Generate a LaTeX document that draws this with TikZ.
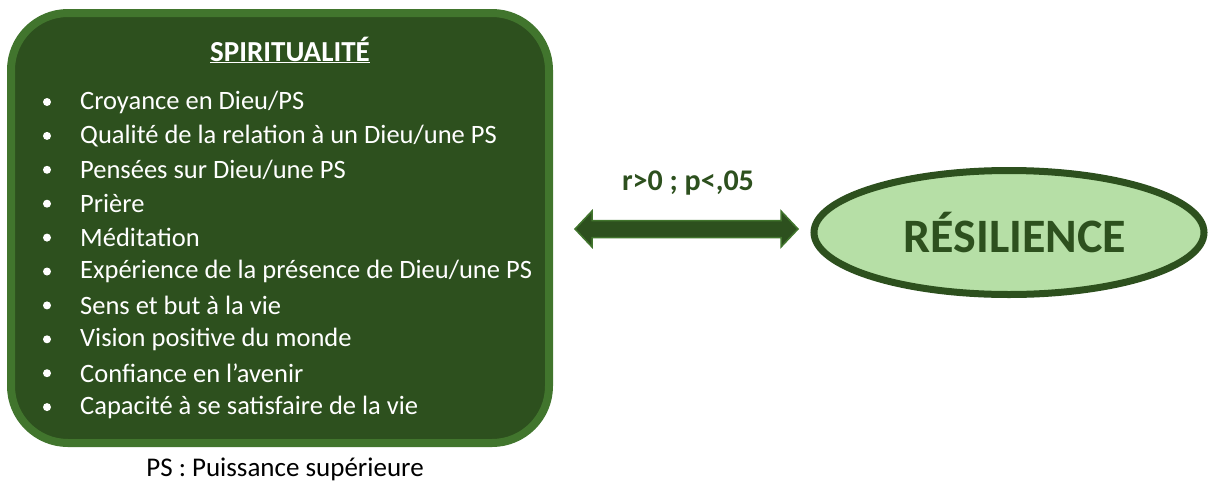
\documentclass[tikz,border=0pt]{standalone}
\usepackage{fontspec}
\setmainfont{Carlito}
\usetikzlibrary{calc}
\definecolor{darkg}{RGB}{45,80,30}
\definecolor{midg}{RGB}{65,117,45}
\definecolor{lightg}{RGB}{182,223,166}
\tikzset{
  itemtxt/.style={anchor=west, text=white, font=\fontsize{26.5}{30}\selectfont, inner sep=0pt},
  bul/.style={circle, fill=white, inner sep=0pt, minimum size=8pt},
}
\begin{document}
\begin{tikzpicture}[x=1pt,y=-1pt]
\useasboundingbox (0,0) rectangle (1208,488);
% main box
\draw[draw=midg, fill=darkg, line width=8pt, rounded corners=57pt] (11,13) rectangle (549,443);
\node[text=white, font=\bfseries\fontsize{29}{32}\selectfont, inner sep=0pt] (title) at (290,50) {\underline{SPIRITUALITÉ}};
\foreach \t [count=\i from 0] in {Croyance en Dieu/PS,Qualité de la relation à un Dieu/une PS,Pensées sur Dieu/une PS,Prière,Méditation,Expérience de la présence de Dieu/une PS,Sens et but à la vie,Vision positive du monde,Confiance en l’avenir,Capacité à se satisfaire de la vie}{
  \node[bul] (b\i) at (47,{102+33.9*\i}) {};
  \node[itemtxt] (t\i) at (80,{102+33.9*\i}) {\t};
}
% arrow
\coordinate (aL) at (575,229);
\coordinate (aR) at (798,229);
\draw[draw=midg, fill=darkg, line width=1.5pt, line join=miter]
  (aL) -- ($(aL)+(17,-18)$) -- ($(aL)+(17,-8.5)$) -- ($(aR)+(-17,-8.5)$) -- ($(aR)+(-17,-18)$) -- (aR)
  -- ($(aR)+(-17,18)$) -- ($(aR)+(-17,8.5)$) -- ($(aL)+(17,8.5)$) -- ($(aL)+(17,18)$) -- cycle;
\node[text=darkg, font=\bfseries\fontsize{30}{34}\selectfont, inner sep=0pt] (lab) at (688,183) {r>0 ; p<,05};
% ellipse
\draw[draw=darkg, fill=lightg, line width=7pt] (1009,232.5) ellipse [x radius=195, y radius=62];
\node[text=darkg, font=\bfseries\fontsize{48}{52}\selectfont, inner sep=0pt] (res) at (1015,233) {RÉSILIENCE};
% footer
\node[text=black, font=\fontsize{27}{30}\selectfont, inner sep=0pt] (foot) at (285,469) {PS : Puissance supérieure};
\end{tikzpicture}
\end{document}
